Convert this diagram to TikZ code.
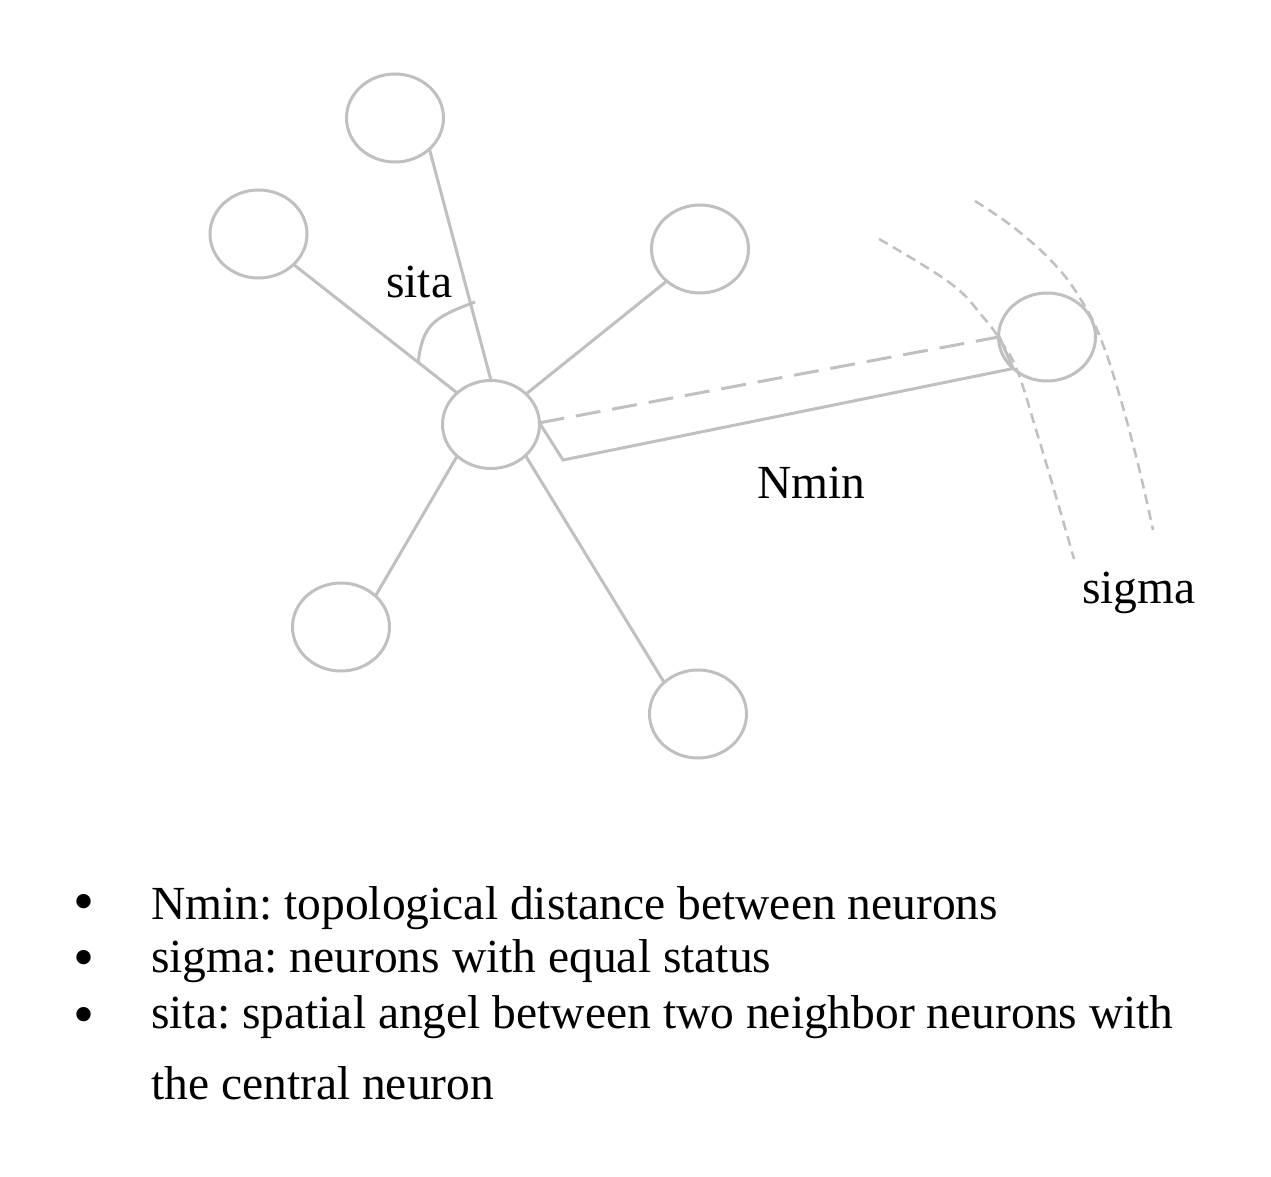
\documentclass[tikz,border=0pt]{standalone}
\usepackage{fontspec}
\setmainfont{Liberation Serif}
\usetikzlibrary{shapes.geometric}
\definecolor{lg}{RGB}{192,192,192}
\begin{document}
\frenchspacing
\begin{tikzpicture}[x=1pt,y=-1pt,
  neuron/.style={ellipse,draw=lg,line width=3pt,inner sep=0pt,outer sep=0pt,minimum width=97pt,minimum height=88pt},
  link/.style={draw=lg,line width=3pt},
  nmindash/.style={draw=lg,line width=3pt,dash pattern=on 25pt off 12pt},
  sigmadash/.style={draw=lg,line width=2.5pt,dash pattern=on 10pt off 6pt},
  lbl/.style={font=\fontsize{47.5}{56}\selectfont\frenchspacing,inner sep=0pt,anchor=base west},
  bul/.style={font=\fontsize{60}{70}\selectfont,inner sep=0pt,anchor=base west}]
\useasboundingbox (0,0) rectangle (1271,1177);
\fill[white] (0,0) rectangle (1271,1177);

% neurons
\node[neuron] (nT)  at (395,118) {};
\node[neuron] (nL)  at (258.5,234) {};
\node[neuron] (nUR) at (700,249) {};
\node[neuron] (nC)  at (491,424.5) {};
\node[neuron] (nR)  at (1047,337) {};
\node[neuron] (nLL) at (341,627) {};
\node[neuron] (nB)  at (698,714) {};

% links
\draw[link] (nT.-42.4) -- (nC.90);
\draw[link] (nL.-41.2) -- (nC.137.2);
\draw[link] (nUR.-136.7) -- (nC.41.2);
\draw[link] (nLL.42.5) -- (nC.-137);
\draw[link] (nB.137.6) -- (nC.-42);

% Nmin distance
\coordinate (kA) at (563,460);
\draw[nmindash] (nC.2) -- (nR.180);
\draw[link,line join=miter] (nC.2) -- (kA) -- (nR.-137.6) -- (nR.178);

% sita angle arc
\coordinate (sA) at (418,363);
\coordinate (sB) at (475,302);
\draw[link] (sA) .. controls (423,325) and (432,318) .. (sB);

% sigma arcs
\draw[sigmadash] plot[smooth,tension=0.7] coordinates {(879,239) (950,283) (983,317) (1000,340) (1017,370) (1037,433) (1057,500) (1074,559)};
\draw[sigmadash] plot[smooth,tension=0.7] coordinates {(975,201) (1017,230) (1057,267) (1083,303) (1100,337) (1117,387) (1137,460) (1153,530)};

% labels
\node[lbl] (tsita) at (386,297) {sita};
\node[lbl] (tnmin) at (757,498) {Nmin};
\node[lbl] (tsigma) at (1082,603) {sigma};

% legend
\node[bul] (b1) at (73,921) {\textbullet};
\node[bul] (b2) at (73,977.5) {\textbullet};
\node[bul] (b3) at (73,1034) {\textbullet};
\node[lbl] (l1) at (151,919) {Nmin: topological distance between neurons};
\node[lbl] (l2) at (151,972) {sigma: neurons with equal status};
\node[lbl] (l3) at (151,1028) {sita: spatial angel between two neighbor neurons with};
\node[lbl] (l4) at (151,1099) {the central neuron};
\end{tikzpicture}
\end{document}
